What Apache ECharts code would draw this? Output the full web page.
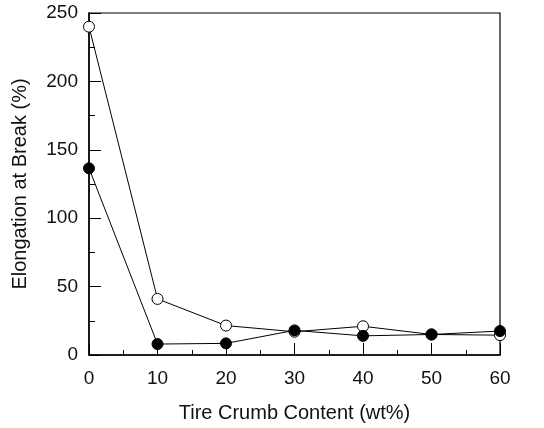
<!DOCTYPE html>
<html><head><meta charset="utf-8">
<script src="https://cdn.jsdelivr.net/npm/echarts@6/dist/echarts.min.js"></script>
<style>html,body{margin:0;padding:0;background:#fff}#c{width:544px;height:428px}</style>
</head><body><div id="c"></div>
<script>
const content = [0, 10, 20, 30, 40, 50, 60];
const openSeries = [240, 41, 21.5, 17, 21, 15, 14.5];
const filledSeries = [136.5, 8, 8.5, 18, 14, 15, 17.5];
const xTitle = 'Tire Crumb Content (wt%)';
const yTitle = 'Elongation at Break (%)';

const font = 'Liberation Sans, Arial, Helvetica, sans-serif';
const chart = echarts.init(document.getElementById('c'), null, {renderer: 'canvas'});
const pair = arr => content.map((x, i) => [x, arr[i]]);
chart.setOption({
  animation: false,
  backgroundColor: '#fff',
  grid: {left: 89, right: 44, top: 13, bottom: 73, show: true, borderColor: '#000', borderWidth: 1.2, backgroundColor: 'transparent'},
  xAxis: {
    type: 'value', min: 0, max: 60, interval: 10,
    name: xTitle, nameLocation: 'middle', nameGap: 48,
    nameTextStyle: {fontFamily: font, fontSize: 20, color: '#111'},
    axisLine: {show: true, lineStyle: {color: '#000', width: 1.5}},
    axisTick: {show: true, inside: true, length: 12, lineStyle: {color: '#000', width: 1}},
    minorTick: {show: true, splitNumber: 2, length: 5, lineStyle: {color: '#000', width: 1}},
    axisLabel: {fontFamily: font, fontSize: 19, color: '#111', margin: 14},
    splitLine: {show: false}
  },
  yAxis: {
    type: 'value', min: 0, max: 250, interval: 50,
    name: yTitle, nameLocation: 'middle', nameGap: 59,
    nameTextStyle: {fontFamily: font, fontSize: 20, color: '#111'},
    axisLine: {show: true, lineStyle: {color: '#000', width: 1.5}},
    axisTick: {show: true, inside: true, length: 12, lineStyle: {color: '#000', width: 1}},
    minorTick: {show: true, splitNumber: 2, length: 6, lineStyle: {color: '#000', width: 1}},
    axisLabel: {fontFamily: font, fontSize: 19, color: '#111', margin: 11},
    splitLine: {show: false}
  },
  series: [
    {
      type: 'line', data: pair(openSeries), symbol: 'circle', symbolSize: 11,
      lineStyle: {color: '#000', width: 1},
      itemStyle: {color: '#fff', borderColor: '#000', borderWidth: 1},
      z: 2
    },
    {
      type: 'line', data: pair(filledSeries), symbol: 'circle', symbolSize: 11,
      lineStyle: {color: '#000', width: 1},
      itemStyle: {color: '#000', borderColor: '#000', borderWidth: 1},
      z: 3
    }
  ]
});
</script></body></html>
